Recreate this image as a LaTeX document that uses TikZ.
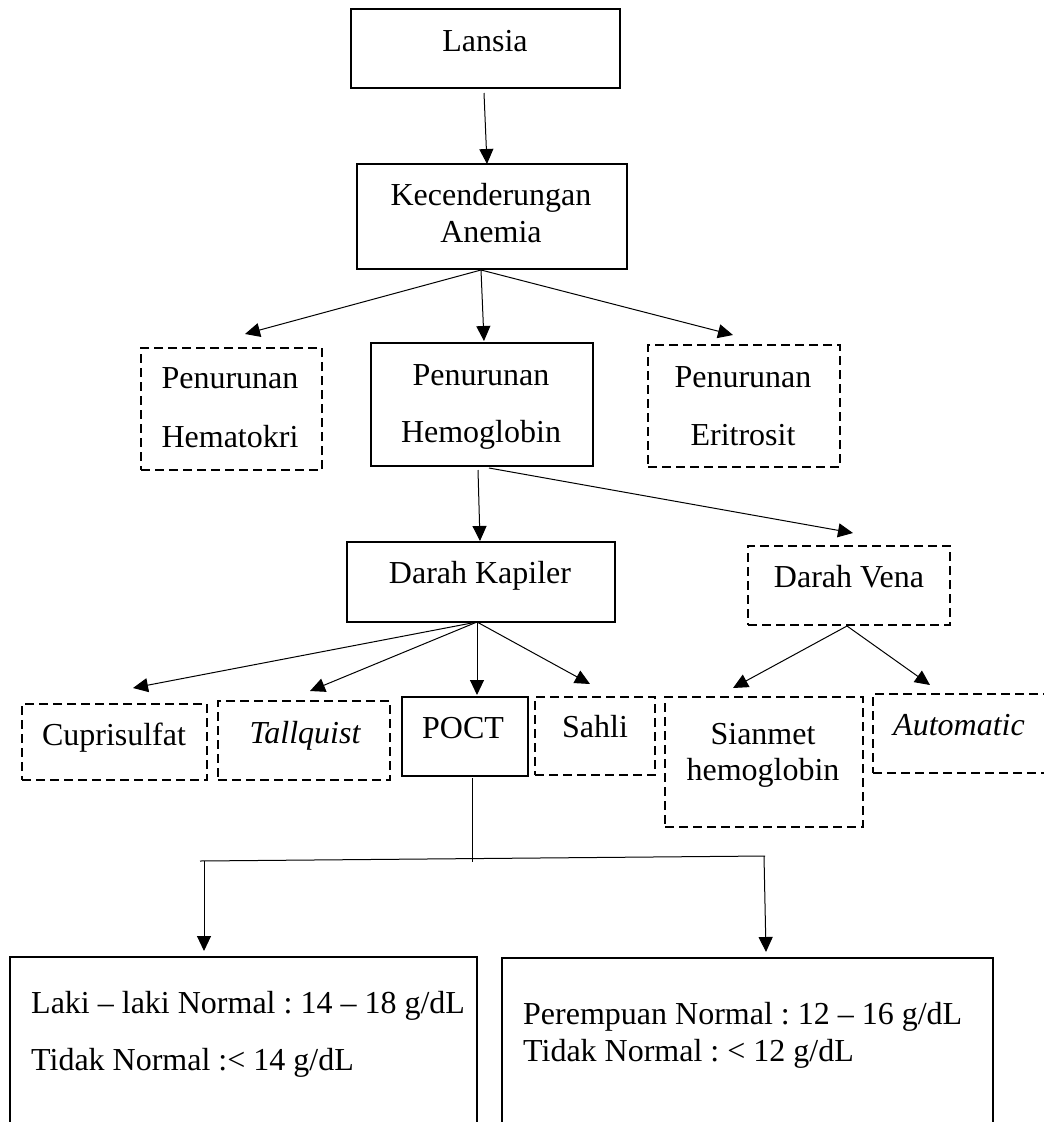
\documentclass[tikz,border=0pt]{standalone}
\usepackage{fontspec}
\setmainfont{Liberation Serif}
\usetikzlibrary{arrows.meta}
\frenchspacing
\begin{document}
\begin{tikzpicture}[x=1pt,y=-1pt,
  font=\fontsize{32}{38}\selectfont,
  solidbox/.style={draw,line width=2.5pt,inner sep=0pt},
  dashbox/.style={draw,line width=2.3pt,inner sep=0pt,dash pattern=on 9pt off 5pt},
  arr/.style={-{Triangle[length=15pt,width=14pt]},line width=1pt},
  ln/.style={line width=1pt},
  txt/.style={inner sep=0pt,anchor=base},
  txtw/.style={inner sep=0pt,anchor=base west}]
\useasboundingbox (0,0) rectangle (1044,1122);
\clip (0,0) rectangle (1044,1122);
% boxes
\node[solidbox,minimum width=269pt,minimum height=79pt] (lansia) at (485.5,48.5) {};
\node[solidbox,minimum width=270pt,minimum height=105pt] (kec) at (492,216.5) {};
\node[dashbox,minimum width=181pt,minimum height=122pt] (hem) at (231.5,409) {};
\node[solidbox,minimum width=222pt,minimum height=123pt] (hb) at (482,404.5) {};
\node[dashbox,minimum width=192pt,minimum height=122pt] (eri) at (744,406) {};
\node[solidbox,minimum width=268pt,minimum height=80pt] (kap) at (481,582) {};
\node[dashbox,minimum width=202pt,minimum height=79pt] (vena) at (849,585.5) {};
\node[dashbox,minimum width=185pt,minimum height=76pt] (cup) at (114.5,742) {};
\node[dashbox,minimum width=172pt,minimum height=79pt] (tal) at (304,740.5) {};
\node[solidbox,minimum width=126pt,minimum height=79pt] (poct) at (465,736.5) {};
\node[dashbox,minimum width=120pt,minimum height=78pt] (sahli) at (595,736) {};
\node[dashbox,minimum width=198pt,minimum height=130pt] (sian) at (764,762) {};
\node[dashbox,minimum width=190pt,minimum height=79pt] (auto) at (968,733.5) {};
\node[solidbox,minimum width=467pt,minimum height=190pt] (laki) at (243.5,1052) {};
\node[solidbox,minimum width=491pt,minimum height=190pt] (prm) at (747.5,1053) {};
% texts
\node[txt] (tLansia) at (485,51) {Lansia};
\node[txt] (tKec1) at (491,205) {Kecenderungan};
\node[txt] (tKec2) at (491,242) {Anemia};
\node[txt] (tHem1) at (230,388) {Penurunan};
\node[txt] (tHem2) at (230,447) {Hematokri};
\node[txt] (tHb1) at (481,385) {Penurunan};
\node[txt] (tHb2) at (481,442) {Hemoglobin};
\node[txt] (tEri1) at (743,387) {Penurunan};
\node[txt] (tEri2) at (743,445) {Eritrosit};
\node[txt] (tKap) at (480,583) {Darah Kapiler};
\node[txt] (tVena) at (849,587) {Darah Vena};
\node[txt] (tCup) at (114,745) {Cuprisulfat};
\node[txt] (tTal) at (305,743) {\itshape Tallquist};
\node[txt] (tPoct) at (463,738) {POCT};
\node[txt] (tSahli) at (595,737) {Sahli};
\node[txt] (tSian1) at (763,744) {Sianmet};
\node[txt] (tSian2) at (763,780) {hemoglobin};
\node[txtw] (tAuto) at (893,735) {\itshape Automatic};
\node[txtw] (tLaki1) at (31,1013) {Laki -- laki Normal : 14 -- 18 g/dL};
\node[txtw] (tLaki2) at (31,1070) {Tidak Normal :< 14 g/dL};
\node[txtw] (tPrm1) at (523,1024) {Perempuan Normal : 12 -- 16 g/dL};
\node[txtw] (tPrm2) at (523,1061) {Tidak Normal : < 12 g/dL};
% connector points
\coordinate (sLansia) at (484,93);
\coordinate (eKec) at (487,164);
\coordinate (sKec) at (481,270);
\coordinate (eHem) at (245,334);
\coordinate (eHb) at (484,341);
\coordinate (eEri) at (733,335);
\coordinate (sHb1) at (478,470);
\coordinate (eKap) at (480,541);
\coordinate (sHb2) at (489,468);
\coordinate (eVena) at (853,533);
\coordinate (sKap) at (477,622);
\coordinate (eCup) at (133,688);
\coordinate (eTal) at (310,691);
\coordinate (ePoct) at (477,695);
\coordinate (eSahli) at (590,684);
\coordinate (sVena) at (847,626);
\coordinate (eSian) at (733,688);
\coordinate (eAuto) at (930,685);
\coordinate (sPoct) at (472,778);
\coordinate (mPoct) at (472,862);
\coordinate (hL) at (200,861);
\coordinate (hR) at (765,856);
\coordinate (sL) at (204,861);
\coordinate (eL) at (204,951);
\coordinate (sR) at (764,856);
\coordinate (eR) at (766,952);
% connectors
\draw[arr] (sLansia) -- (eKec);
\draw[arr] (sKec) -- (eHem);
\draw[arr] (sKec) -- (eHb);
\draw[arr] (sKec) -- (eEri);
\draw[arr] (sHb1) -- (eKap);
\draw[arr] (sHb2) -- (eVena);
\draw[arr] (sKap) -- (eCup);
\draw[arr] (sKap) -- (eTal);
\draw[arr] (sKap) -- (ePoct);
\draw[arr] (sKap) -- (eSahli);
\draw[arr] (sVena) -- (eSian);
\draw[arr] (sVena) -- (eAuto);
\draw[ln] (sPoct) -- (mPoct);
\draw[ln] (hL) -- (hR);
\draw[arr] (sL) -- (eL);
\draw[arr] (sR) -- (eR);
\end{tikzpicture}
\end{document}
